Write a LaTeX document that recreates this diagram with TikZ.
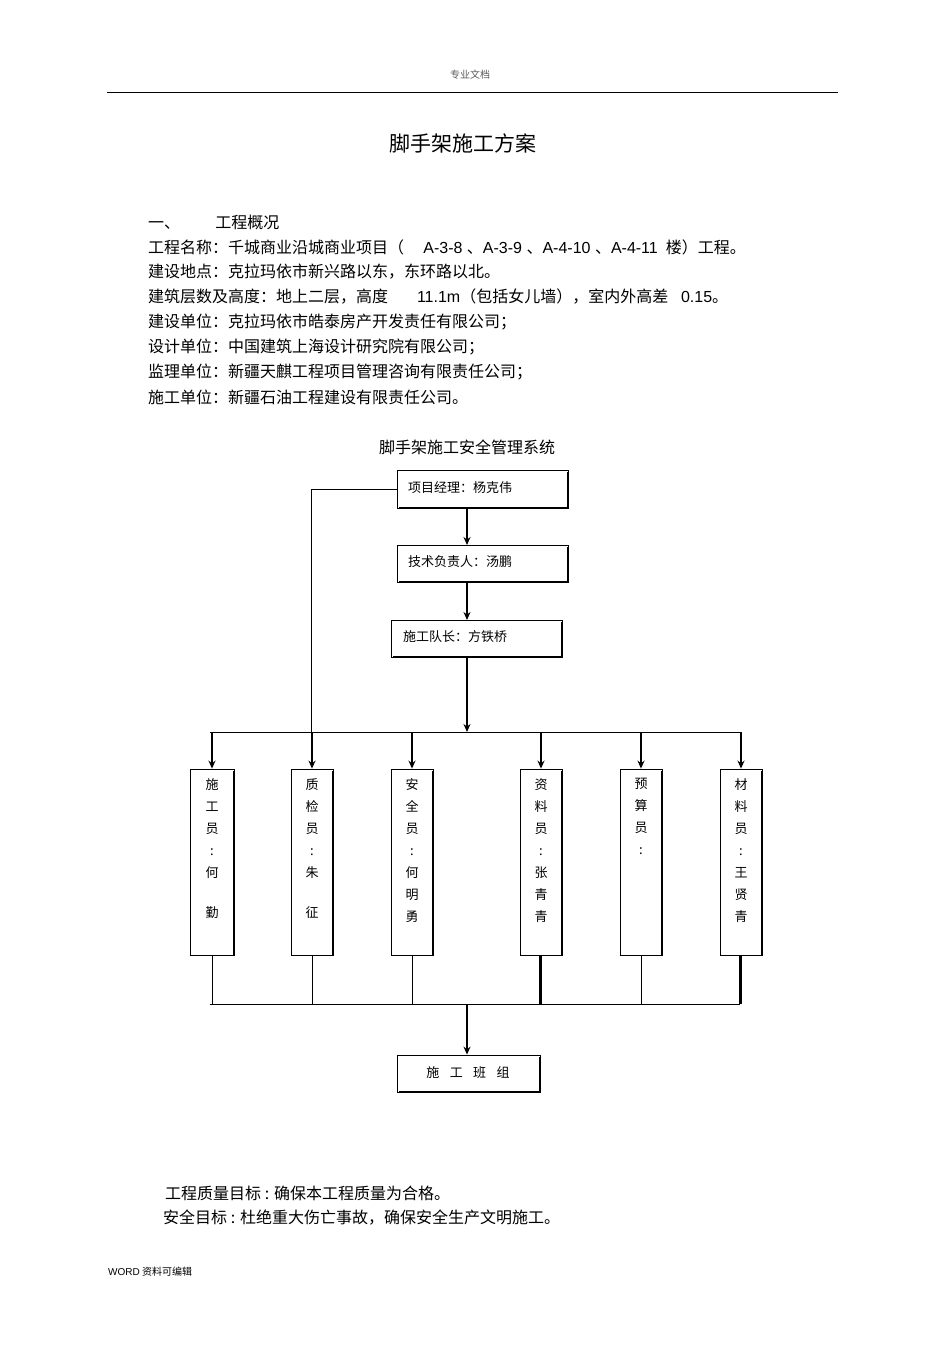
\documentclass[tikz,border=0pt]{standalone}
\usepackage{fontspec}
\setmainfont{Noto Sans CJK SC}
\newfontfamily\lat{Liberation Sans}
\usetikzlibrary{arrows.meta}
\begin{document}
\begin{tikzpicture}[x=1pt,y=-1pt,
  bx/.style={draw,line width=0.8pt,inner sep=0},
  arr/.style={-{Stealth[length=8pt,width=7pt]},line width=1.4pt},
  ln/.style={line width=0.8pt},
  txt/.style={anchor=west,font=\fontsize{16}{16}\selectfont,inner sep=0},
  ch/.style={font=\fontsize{13}{13}\selectfont,inner sep=0}]
\useasboundingbox (0,0) rectangle (950,1346);
\node[font=\fontsize{10}{10}\selectfont,text=gray!70!black] (hd) at (470,75) {专业文档};
\draw[line width=0.6pt] (107,92) coordinate (hl) -- (838,92) coordinate (hr);
\node[font=\fontsize{21}{21}\selectfont] (title) at (463,143) {脚手架施工方案};
\node[txt] (l0) at (148,222) {一、\hspace{2.2em}工程概况};
\node[txt] (l1) at (148,247) {工程名称：千城商业沿城商业项目（\hspace{1.2em}{\lat A-3-8 }、{\lat A-3-9 }、{\lat A-4-10 }、{\lat A-4-11 } 楼）工程。};
\node[txt] (l2) at (148,272) {建设地点：克拉玛依市新兴路以东，东环路以北。};
\node[txt] (l3) at (148,297) {建筑层数及高度：地上二层，高度\hspace{1.8em}{\lat 11.1m}（包括女儿墙），室内外高差\hspace{0.8em}{\lat 0.15}。};
\node[txt] (l4) at (148,322) {建设单位：克拉玛依市皓泰房产开发责任有限公司；};
\node[txt] (l5) at (148,347) {设计单位：中国建筑上海设计研究院有限公司；};
\node[txt] (l6) at (148,372) {监理单位：新疆天麒工程项目管理咨询有限责任公司；};
\node[txt] (l7) at (148,397) {施工单位：新疆石油工程建设有限责任公司。};
\node[font=\fontsize{16}{16}\selectfont] (ct) at (467,447) {脚手架施工安全管理系统};
% top boxes
\node[bx,minimum width=171pt,minimum height=38pt] (b1) at (482.5,489) {};
\node[ch,anchor=west] at (408,488) {项目经理：杨克伟};
\node[bx,minimum width=171pt,minimum height=37pt] (b2) at (482.5,563.5) {};
\node[ch,anchor=west] at (408,562) {技术负责人：汤鹏};
\node[bx,minimum width=171pt,minimum height=37pt] (b3) at (476.5,638.5) {};
\node[ch,anchor=west] at (403,637) {施工队长：方铁桥};
\draw[line width=2pt] (568,472)--(568,508)--(399,508);
\draw[line width=2pt] (568,547)--(568,582)--(399,582);
\draw[line width=2pt] (562,622)--(562,657)--(393,657);
\draw[arr] (467,508) -- (467,545);
\draw[arr] (467,582) -- (467,620);
\coordinate (bus) at (467,732);
\draw[arr] (467,657) -- (bus);
\draw[ln] (210,732) -- (740,732);
% vertical boxes
\foreach \n/\xl/\xr/\t in {
 v1/190/234/{施\\工\\员\\:\\何\\[18pt]勤},
 v2/291/333/{质\\检\\员\\:\\朱\\[18pt]征},
 v3/391/433/{安\\全\\员\\:\\何\\明\\勇},
 v4/520/562/{资\\料\\员\\:\\张\\青\\青},
 v5/620/662/{预\\算\\员\\:},
 v6/720/762/{材\\料\\员\\:\\王\\贤\\青}}{
 \node[bx,minimum width=\xr-\xl,minimum height=186pt] (\n) at ({(\xl+\xr)/2},862) {};
 \node[ch,anchor=north,align=center,font=\fontsize{13}{22}\selectfont] at ({(\xl+\xr)/2},778) {\t};
 \draw[arr] ({(\xl+\xr)/2},732) -- (\n.north);
 \draw[ln] (\n.south) -- ({(\xl+\xr)/2},1004);
}
\draw[line width=2pt] (234,771)--(234,955); \draw[line width=2pt] (333,771)--(333,955);
\draw[line width=2pt] (433,771)--(433,955); \draw[line width=2pt] (562,771)--(562,955);
\draw[line width=2pt] (662,771)--(662,955); \draw[line width=2pt] (762,771)--(762,955);
\draw[ln] (b1.west) -| (311,732);
\draw[ln] (210,1004) -- (740,1004);
\draw[line width=2pt] (540,955)--(540,1004); \draw[line width=2pt] (740,955)--(740,1004);
\node[bx,minimum width=143pt,minimum height=37pt] (b4) at (468.5,1073.5) {};
\draw[line width=2pt] (540,1057)--(540,1092)--(399,1092);
\node[ch] at (468,1073) {施\hspace{0.8em}工\hspace{0.8em}班\hspace{0.8em}组};
\draw[arr] (467,1004) -- (b4.north -| 467,0);
\node[txt] (g1) at (165,1193) {工程质量目标 : 确保本工程质量为合格。};
\node[txt] (g2) at (163,1218) {安全目标 : 杜绝重大伤亡事故，确保安全生产文明施工。};
\node[anchor=west,font=\fontsize{10}{10}\selectfont,inner sep=0] (ft) at (108,1272) {{\lat WORD} 资料可编辑};
\end{tikzpicture}
\end{document}
